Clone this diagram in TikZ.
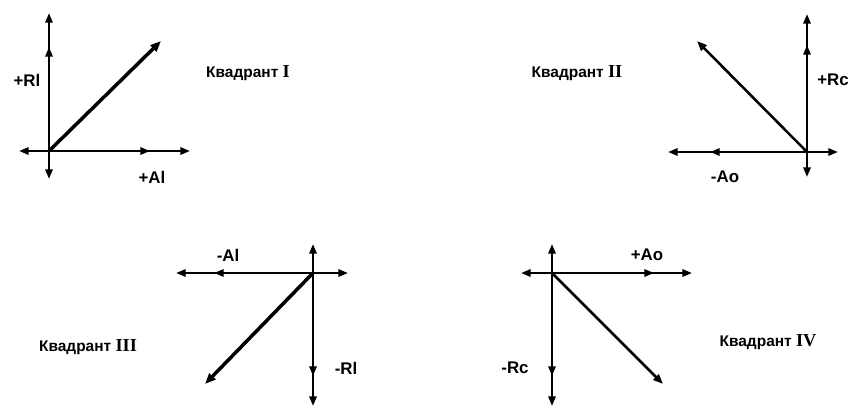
\documentclass[tikz,border=0pt]{standalone}
\usepackage{fontspec}
\setmainfont{Liberation Sans}
\newfontfamily\romfont{Liberation Serif}
\usetikzlibrary{arrows.meta}

\tikzset{
  axis/.style={line width=1.6pt,-{Triangle[length=2.4mm,width=1.8mm]}},
  vecbold/.style={line width=2.5pt,-{Triangle[length=2.7mm,width=2.1mm]}},
  vecthin/.style={line width=1.8pt,-{Triangle[length=2.5mm,width=1.9mm]}},
  lbl/.style={font=\bfseries\fontsize{12}{14}\selectfont,inner sep=0pt},
  quad/.style={font=\bfseries\fontsize{11}{13}\selectfont,inner sep=0pt},
}

\begin{document}
\begin{tikzpicture}[x=0.025cm,y=-0.025cm]
  \useasboundingbox (0,0) rectangle (855,409);

  % quadrant I
  \coordinate (o1) at (49,151);
  \coordinate (up1a) at (49,47);
  \coordinate (up1b) at (49,13);
  \coordinate (dn1) at (49,179);
  \coordinate (lf1) at (19,151);
  \coordinate (rt1a) at (150,151);
  \coordinate (rt1b) at (190,151);
  \coordinate (d1) at (161,41);
  \draw[axis] (o1) -- (up1a);
  \draw[axis] (o1) -- (up1b);
  \draw[axis] (o1) -- (dn1);
  \draw[axis] (o1) -- (lf1);
  \draw[axis] (o1) -- (rt1a);
  \draw[axis] (o1) -- (rt1b);
  \draw[vecbold] (o1) -- (d1);
  \node[lbl] (ri1) at (27,80) {+Rl};
  \node[lbl] (ai1) at (152,177) {+Al};
  \node[quad] (q1) at (248,73) {Квадрант {\romfont\fontsize{13}{15}\selectfont I}};

  % quadrant II
  \coordinate (o2) at (807,152);
  \coordinate (up2a) at (807,45);
  \coordinate (up2b) at (807,14);
  \coordinate (dn2) at (807,177);
  \coordinate (lf2a) at (710,152);
  \coordinate (lf2b) at (668,152);
  \coordinate (rt2) at (838,152);
  \coordinate (d2) at (697,41);
  \draw[axis] (o2) -- (up2a);
  \draw[axis] (o2) -- (up2b);
  \draw[axis] (o2) -- (dn2);
  \draw[axis] (o2) -- (lf2a);
  \draw[axis] (o2) -- (lf2b);
  \draw[axis] (o2) -- (rt2);
  \draw[vecthin] (o2) -- (d2);
  \node[lbl] (rc2) at (833,80) {+Rc};
  \node[lbl] (ao2) at (725,177) {-Ao};
  \node[quad] (q2) at (577,73) {Квадрант {\romfont\fontsize{13}{15}\selectfont II}};

  % quadrant III
  \coordinate (o3) at (313,273);
  \coordinate (up3) at (313,244);
  \coordinate (dn3a) at (313,376);
  \coordinate (dn3b) at (313,406);
  \coordinate (lf3a) at (214,273);
  \coordinate (lf3b) at (176,273);
  \coordinate (rt3) at (348,273);
  \coordinate (d3) at (205,384);
  \draw[axis] (o3) -- (up3);
  \draw[axis] (o3) -- (dn3a);
  \draw[axis] (o3) -- (dn3b);
  \draw[axis] (o3) -- (lf3a);
  \draw[axis] (o3) -- (lf3b);
  \draw[axis] (o3) -- (rt3);
  \draw[vecbold] (o3) -- (d3);
  \node[lbl] (ai3) at (228,255) {-Al};
  \node[lbl] (ri3) at (346,368) {-Rl};
  \node[quad] (q3) at (88,347) {Квадрант {\romfont\fontsize{13}{15}\selectfont III}};

  % quadrant IV
  \coordinate (o4) at (552,273);
  \coordinate (up4) at (552,244);
  \coordinate (dn4a) at (552,376);
  \coordinate (dn4b) at (552,406);
  \coordinate (lf4) at (521,273);
  \coordinate (rt4a) at (654,273);
  \coordinate (rt4b) at (692,273);
  \coordinate (d4) at (663,384);
  \draw[axis] (o4) -- (up4);
  \draw[axis] (o4) -- (dn4a);
  \draw[axis] (o4) -- (dn4b);
  \draw[axis] (o4) -- (lf4);
  \draw[axis] (o4) -- (rt4a);
  \draw[axis] (o4) -- (rt4b);
  \draw[vecthin] (o4) -- (d4);
  \node[lbl] (ao4) at (647,255) {+Ao};
  \node[lbl] (rc4) at (515,368) {-Rc};
  \node[quad] (q4) at (768,342) {Квадрант {\romfont\fontsize{13}{15}\selectfont IV}};
\end{tikzpicture}
\end{document}
